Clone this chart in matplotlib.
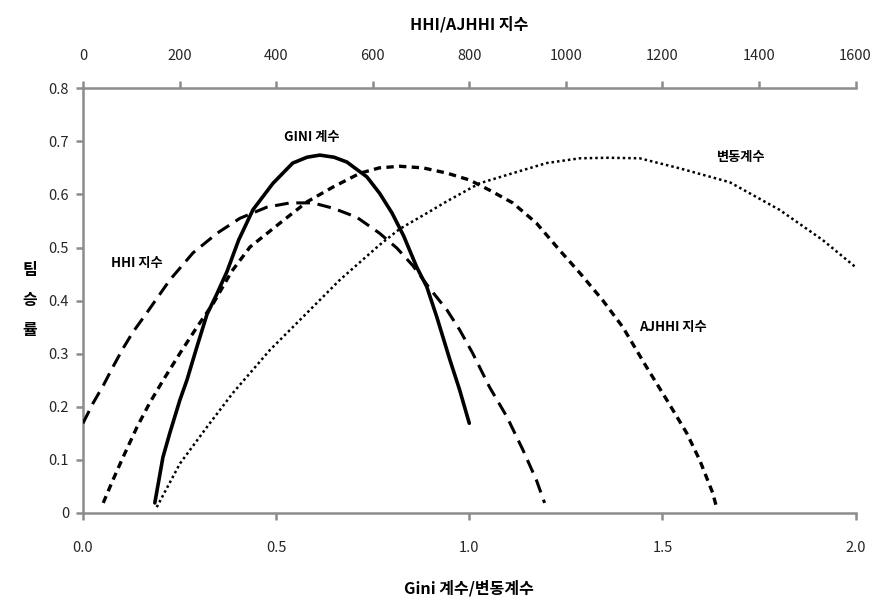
import matplotlib
matplotlib.use("Agg")
import matplotlib.pyplot as plt

plt.rcParams['font.family'] = ['Noto Sans CJK KR', 'DejaVu Sans']

# Gini coefficient (bottom axis)
gini_x = [0.186, 0.207, 0.225, 0.251, 0.269, 0.295, 0.321, 0.345, 0.373, 0.403, 0.440,
          0.492, 0.543, 0.580, 0.613, 0.650, 0.683, 0.735, 0.768, 0.800, 0.830, 0.864,
          0.890, 0.916, 0.950, 0.975, 1.0]
gini_y = [0.019, 0.105, 0.151, 0.213, 0.25, 0.313, 0.374, 0.41, 0.455, 0.514, 0.571,
          0.621, 0.659, 0.670, 0.674, 0.670, 0.661, 0.633, 0.602, 0.565, 0.522, 0.463,
          0.426, 0.369, 0.288, 0.232, 0.169]

# coefficient of variation (bottom axis)
cv_x = [0.191, 0.251, 0.321, 0.388, 0.484, 0.55, 0.613, 0.665, 0.768, 0.82, 0.898,
        0.942, 1.027, 1.113, 1.2, 1.286, 1.36, 1.441, 1.545, 1.674, 1.803, 1.915, 2.0]
cv_y = [0.011, 0.093, 0.162, 0.226, 0.307, 0.355, 0.401, 0.439, 0.505, 0.535, 0.568,
        0.587, 0.621, 0.64, 0.659, 0.668, 0.669, 0.668, 0.649, 0.623, 0.571, 0.514, 0.463]

# HHI (top axis)
hhi_x = [0, 21, 42, 62, 83, 103, 133, 180, 228, 278, 325, 381, 429, 476, 518, 567,
         614, 650, 683, 718, 754, 780, 807, 842, 878, 911, 939, 956]
hhi_y = [0.169, 0.207, 0.240, 0.275, 0.31, 0.34, 0.378, 0.439, 0.490, 0.527, 0.555,
         0.576, 0.584, 0.584, 0.574, 0.557, 0.527, 0.499, 0.466, 0.423, 0.382, 0.345,
         0.301, 0.237, 0.181, 0.119, 0.062, 0.019]

# AJHHI (top axis)
ajhhi_x = [42, 62, 83, 112, 138, 166, 201, 236, 270, 308, 346, 408, 464, 518, 574,
           614, 656, 704, 754, 801, 842, 890, 939, 987, 1029, 1076, 1118, 1167, 1209,
           1250, 1277, 1304, 1312]
ajhhi_y = [0.019, 0.062, 0.105, 0.162, 0.207, 0.25, 0.301, 0.35, 0.395, 0.455, 0.501,
           0.546, 0.586, 0.614, 0.640, 0.650, 0.653, 0.650, 0.640, 0.627, 0.608, 0.584,
           0.546, 0.495, 0.452, 0.401, 0.35, 0.275, 0.213, 0.151, 0.1, 0.038, 0.011]

gray = '#8c8c8c'
txt = '#262626'

fig = plt.figure(figsize=(8.76, 6), dpi=100)
ax = fig.add_axes([0.0947, 0.145, 0.882, 0.708])
ax2 = ax.twiny()

ax.plot(gini_x, gini_y, color='black', lw=2.6, solid_capstyle='round',
        solid_joinstyle='round')
ax.plot(cv_x, cv_y, color='black', lw=1.8, linestyle=(0, (1, 1.2)))
ax2.plot(hhi_x, hhi_y, color='black', lw=2.2, linestyle=(0, (4.5, 2.5)))
ax2.plot(ajhhi_x, ajhhi_y, color='black', lw=2.4, linestyle=(0, (2.2, 1.6)))

ax.set_xlim(0, 2.0)
ax.set_ylim(0, 0.8)
ax2.set_xlim(0, 1600)

ax.set_xticks([0.0, 0.5, 1.0, 1.5, 2.0])
ax.set_xticklabels(['0.0', '0.5', '1.0', '1.5', '2.0'])
ax.set_yticks([0, 0.1, 0.2, 0.3, 0.4, 0.5, 0.6, 0.7, 0.8])
ax.set_yticklabels(['0', '0.1', '0.2', '0.3', '0.4', '0.5', '0.6', '0.7', '0.8'])
ax2.set_xticks(range(0, 1601, 200))

for a in (ax, ax2):
    a.spines['right'].set_visible(False)
    for s in ('left', 'bottom', 'top'):
        a.spines[s].set_color(gray)
        a.spines[s].set_linewidth(1.8)
ax2.spines['bottom'].set_visible(False)
ax2.spines['left'].set_visible(False)
ax.spines['top'].set_visible(False)

ax.tick_params(axis='x', direction='out', length=5, width=1.8, color=gray,
               labelsize=10.5, labelcolor=txt, pad=15)
ax.tick_params(axis='y', direction='out', length=5, width=1.8, color=gray,
               labelsize=10.5, labelcolor=txt, pad=5)
ax2.tick_params(axis='x', direction='out', length=5, width=1.8, color=gray,
                labelsize=10.5, labelcolor=txt, pad=13)

ax.set_xlabel('Gini 계수/변동계수', fontsize=11.5, fontweight='bold', labelpad=18)
ax2.set_xlabel('HHI/AJHHI 지수', fontsize=11.5, fontweight='bold', labelpad=14)
fig.text(0.034, 0.5, '팀\n승\n률', fontsize=11.5, fontweight='bold',
         ha='center', va='center', linespacing=2.1)

ax.text(0.593, 0.708, 'GINI 계수', fontsize=9.5, fontweight='bold', ha='center', va='center')
ax.text(0.14, 0.471, 'HHI 지수', fontsize=9.5, fontweight='bold', ha='center', va='center')
ax.text(1.705, 0.670, '변동계수', fontsize=9.5, fontweight='bold', ha='center', va='center')
ax.text(1.527, 0.350, 'AJHHI 지수', fontsize=9.5, fontweight='bold', ha='center', va='center')

fig.savefig('out.png', dpi=100)
